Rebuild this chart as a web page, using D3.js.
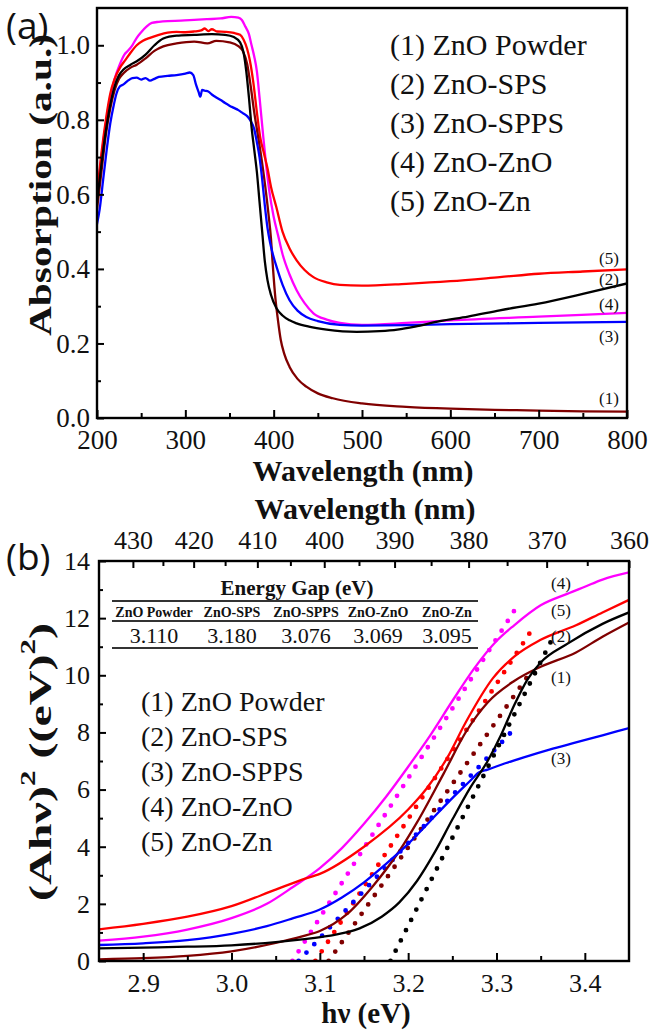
<!DOCTYPE html>
<html>
<head>
<meta charset="utf-8">
<script src="https://cdn.jsdelivr.net/npm/d3@7"></script>
<style>
  html, body { margin: 0; padding: 0; background: #fff; }
  svg { display: block; }
</style>
</head>
<body>
<svg id="chart" width="650" height="1030"></svg>
<script>
// ============================================================
// 데이터
// ============================================================

const sampleNames = ['ZnO Powder', 'ZnO-SPS', 'ZnO-SPPS', 'ZnO-ZnO', 'ZnO-Zn'];
const sampleColors = ['#800000', '#000000', '#0000ff', '#ff00ff', '#ff0000'];
const legendLabels = ['(1) ZnO Powder', '(2) ZnO-SPS', '(3) ZnO-SPPS', '(4) ZnO-ZnO', '(5) ZnO-Zn'];

// (a) 흡수 스펙트럼: [wavelength nm, absorption a.u.]
const absPowder = [[200,0.56],[205,0.66],[210,0.76],[215,0.83],[220,0.88],[225,0.91],[230,0.925],[238,0.94],[245,0.948],[255,0.965],[265,0.985],[275,0.997],[290,1.005],[310,1.01],[325,1.005],[335,1.012],[350,1.008],[360,0.998],[365,0.985],[370,0.95],[374,0.89],[378,0.82],[382,0.76],[386,0.7],[390,0.63],[394,0.55],[397,0.48],[399,0.41],[402,0.32],[405,0.26],[408,0.21],[412,0.172],[418,0.137],[427,0.105],[437,0.084],[450,0.066],[467,0.053],[500,0.039],[550,0.03],[600,0.025],[650,0.022],[700,0.02],[750,0.018],[800,0.017]];
const absSPS = [[200,0.58],[205,0.68],[210,0.77],[215,0.84],[220,0.89],[225,0.92],[230,0.935],[238,0.948],[245,0.957],[255,0.975],[265,1.0],[275,1.018],[290,1.026],[310,1.028],[330,1.03],[345,1.028],[355,1.022],[362,1.008],[366,0.98],[369,0.93],[372,0.86],[375,0.78],[378,0.72],[381,0.66],[384,0.58],[387,0.5],[390,0.42],[393,0.37],[397,0.33],[403,0.295],[410,0.275],[418,0.262],[426,0.254],[440,0.245],[460,0.237],[494,0.231],[520,0.233],[540,0.237],[560,0.245],[588,0.26],[620,0.272],[656,0.289],[700,0.307],[750,0.333],[800,0.361]];
const absSPPS = [[200,0.52],[203,0.56],[207,0.64],[211,0.72],[215,0.79],[219,0.84],[222,0.87],[226,0.89],[230,0.895],[235,0.905],[240,0.912],[245,0.913],[250,0.908],[255,0.912],[260,0.905],[265,0.91],[270,0.915],[280,0.918],[290,0.92],[300,0.924],[305,0.927],[309,0.92],[312,0.895],[315,0.875],[317,0.862],[319,0.88],[322,0.878],[326,0.876],[330,0.868],[335,0.86],[340,0.853],[345,0.845],[350,0.838],[355,0.832],[360,0.826],[365,0.818],[370,0.81],[374,0.797],[378,0.775],[381,0.74],[384,0.7],[387,0.64],[390,0.57],[393,0.51],[396,0.47],[399,0.44],[404,0.4],[410,0.358],[418,0.316],[427,0.288],[437,0.271],[450,0.26],[475,0.25],[500,0.248],[550,0.249],[600,0.252],[700,0.255],[800,0.258]];
const absZnO = [[200,0.59],[205,0.7],[210,0.79],[215,0.86],[220,0.91],[226,0.95],[231,0.975],[235,0.985],[240,1.0],[245,1.02],[250,1.035],[256,1.05],[262,1.06],[270,1.063],[280,1.065],[295,1.066],[310,1.068],[325,1.07],[340,1.072],[352,1.076],[360,1.074],[364,1.068],[368,1.05],[372,1.03],[375,1.0],[378,0.97],[381,0.93],[384,0.86],[388,0.76],[391,0.69],[395,0.61],[400,0.54],[405,0.49],[410,0.44],[418,0.385],[426,0.343],[435,0.308],[445,0.281],[460,0.264],[475,0.255],[500,0.25],[550,0.255],[600,0.262],[700,0.272],[800,0.282]];
const absZn = [[200,0.6],[205,0.71],[210,0.8],[215,0.87],[220,0.91],[226,0.94],[232,0.96],[238,0.98],[245,1.0],[252,1.012],[260,1.02],[270,1.028],[280,1.034],[290,1.036],[300,1.035],[310,1.037],[318,1.04],[322,1.045],[326,1.038],[330,1.043],[336,1.037],[345,1.036],[355,1.033],[362,1.028],[366,1.015],[370,0.99],[373,0.96],[377,0.9],[381,0.82],[385,0.75],[389,0.71],[393,0.67],[397,0.62],[403,0.566],[410,0.5],[418,0.455],[426,0.423],[435,0.397],[445,0.378],[460,0.364],[475,0.357],[500,0.355],[550,0.36],[600,0.367],[656,0.378],[700,0.387],[750,0.393],[800,0.399]];

// (b) Tauc plot: [hν eV, (Ahν)^2]
const taucPowder = [[2.85,0.06],[2.9,0.1],[2.95,0.18],[3.0,0.34],[3.05,0.63],[3.08,0.86],[3.1,1.05],[3.13,1.62],[3.16,2.62],[3.19,3.85],[3.21,4.85],[3.24,6.55],[3.266,8.05],[3.29,9.05],[3.32,9.8],[3.35,10.3],[3.39,10.8],[3.42,11.35],[3.45,11.85]];
const taucSPS = [[2.85,0.44],[2.9,0.47],[2.95,0.5],[3.0,0.55],[3.05,0.66],[3.08,0.76],[3.11,0.88],[3.145,1.14],[3.17,1.55],[3.19,2.05],[3.21,2.8],[3.23,3.8],[3.25,4.95],[3.27,6.05],[3.29,7.0],[3.305,7.9],[3.32,8.95],[3.335,9.85],[3.35,10.45],[3.38,11.1],[3.42,11.8],[3.45,12.2]];
const taucSPPS = [[2.85,0.56],[2.9,0.62],[2.95,0.73],[3.0,0.95],[3.04,1.22],[3.07,1.5],[3.1,1.8],[3.125,2.22],[3.15,2.75],[3.175,3.4],[3.2,4.1],[3.225,4.9],[3.25,5.7],[3.27,6.3],[3.28,6.6],[3.29,6.7],[3.31,6.92],[3.33,7.12],[3.36,7.4],[3.39,7.65],[3.42,7.9],[3.45,8.15]];
const taucZnO = [[2.85,0.71],[2.9,0.85],[2.95,1.1],[3.0,1.5],[3.04,2.0],[3.07,2.6],[3.1,3.25],[3.125,3.95],[3.15,4.8],[3.175,5.75],[3.2,6.8],[3.225,7.9],[3.25,9.1],[3.275,10.25],[3.3,11.2],[3.32,11.75],[3.35,12.45],[3.38,12.85],[3.4,13.1],[3.42,13.35],[3.45,13.6]];
const taucZn = [[2.85,1.11],[2.9,1.3],[2.95,1.55],[3.0,1.92],[3.05,2.5],[3.08,2.85],[3.1,3.05],[3.15,4.0],[3.2,5.3],[3.22,6.0],[3.244,7.1],[3.266,8.4],[3.296,9.9],[3.32,10.65],[3.35,11.24],[3.39,11.75],[3.42,12.2],[3.45,12.64]];

// 선형 외삽선 (점선): [[Eg, 0], [끝점 eV, 끝점 값]]
const fitPowder = [[3.110,0],[3.335,9.95]];
const fitSPS    = [[3.180,0],[3.364,11.33]];
const fitSPPS   = [[3.076,0],[3.319,8.09]];
const fitZnO    = [[3.069,0],[3.325,12.5]];
const fitZn     = [[3.095,0],[3.344,11.78]];

// 에너지 갭 표
const gapValues = ['3.110', '3.180', '3.076', '3.069', '3.095'];

// 눈금
const absTicksX = [200, 300, 400, 500, 600, 700, 800];
const absTicksY = [0, 0.2, 0.4, 0.6, 0.8, 1.0];
const taucTicksX = [2.9, 3.0, 3.1, 3.2, 3.3, 3.4];
const taucTicksY = [0, 2, 4, 6, 8, 10, 12, 14];
const wavelengthTicksTop = [430, 420, 410, 400, 390, 380, 370, 360];
const HC = 1242; // eV·nm (그림의 상단 축 위치에 맞춤)

// ============================================================
// 그리기
// ============================================================
const svg = d3.select('#chart');
const SERIF = '"Liberation Serif", "Times New Roman", Times, serif';
const SANS = '"Open Sans", "Noto Sans", sans-serif';

const absSeries = [absPowder, absSPS, absSPPS, absZnO, absZn];
const taucSeries = [taucPowder, taucSPS, taucSPPS, taucZnO, taucZn];
const fitSeries = [fitPowder, fitSPS, fitSPPS, fitZnO, fitZn];
const drawOrder = [3, 4, 0, 2, 1];

function styleAxis(g, fontSize) {
  g.attr('font-family', null).attr('font-size', null);
  g.select('.domain').remove();
  g.selectAll('.tick line').attr('stroke', '#000').attr('stroke-width', 2);
  g.selectAll('.tick text')
    .attr('fill', '#111')
    .style('font-family', SERIF)
    .style('font-size', fontSize + 'px');
}

function drawFrame(x, y) {
  svg.append('rect')
    .attr('x', x.range()[0]).attr('y', y.range()[1])
    .attr('width', x.range()[1] - x.range()[0])
    .attr('height', y.range()[0] - y.range()[1])
    .attr('fill', 'none').attr('stroke', '#000').attr('stroke-width', 2.4);
}

function addClip(id, x, y) {
  svg.append('defs').append('clipPath').attr('id', id)
    .append('rect')
    .attr('x', x.range()[0]).attr('y', y.range()[1])
    .attr('width', x.range()[1] - x.range()[0])
    .attr('height', y.range()[0] - y.range()[1]);
}

function serifText(x, y, str, size, opts = {}) {
  return svg.append('text')
    .attr('x', x).attr('y', y)
    .attr('text-anchor', opts.anchor || 'start')
    .attr('fill', '#111')
    .style('font-family', opts.family || SERIF)
    .style('font-size', size + 'px')
    .style('font-weight', opts.bold ? 'bold' : 'normal')
    .text(str);
}

// ---------------- (a) 흡수 스펙트럼 ----------------
const xA = d3.scaleLinear().domain([200, 800]).range([97, 627]);
const yA = d3.scaleLinear().domain([0, 1.1]).range([418, 8]);
addClip('clipA', xA, yA);

const lineA = d3.line().x(d => xA(d[0])).y(d => yA(d[1])).curve(d3.curveMonotoneX);
const gA = svg.append('g').attr('clip-path', 'url(#clipA)');
drawOrder.forEach(i => {
  gA.append('path')
    .datum(absSeries[i])
    .attr('d', lineA)
    .attr('fill', 'none')
    .attr('stroke', sampleColors[i])
    .attr('stroke-width', 2.3)
    .attr('stroke-linejoin', 'round');
});

// 눈금 (안쪽 방향)
svg.append('g').attr('transform', 'translate(0,418)')
  .call(d3.axisBottom(xA).tickValues(absTicksX).tickFormat(d3.format('d'))
    .tickSizeInner(-8).tickSizeOuter(0).tickPadding(12))
  .call(g => styleAxis(g, 27));
svg.append('g').attr('transform', 'translate(0,418)')
  .call(d3.axisBottom(xA).tickValues(d3.range(250, 800, 100)).tickFormat('')
    .tickSizeInner(-5).tickSizeOuter(0))
  .call(g => styleAxis(g, 27));
svg.append('g').attr('transform', 'translate(97,0)')
  .call(d3.axisLeft(yA).tickValues(absTicksY).tickFormat(d3.format('.1f'))
    .tickSizeInner(-7).tickSizeOuter(0).tickPadding(7))
  .call(g => styleAxis(g, 27));
svg.append('g').attr('transform', 'translate(97,0)')
  .call(d3.axisLeft(yA).tickValues([0.1, 0.3, 0.5, 0.7, 0.9]).tickFormat('')
    .tickSizeInner(-4).tickSizeOuter(0))
  .call(g => styleAxis(g, 27));
drawFrame(xA, yA);

// 축 제목
serifText(363, 481, 'Wavelength (nm)', 30, { anchor: 'middle', bold: true });
svg.append('text')
  .attr('transform', 'translate(51,185) rotate(-90)')
  .attr('text-anchor', 'middle')
  .attr('fill', '#111')
  .attr('textLength', 302)
  .attr('lengthAdjust', 'spacingAndGlyphs')
  .style('font-family', SERIF).style('font-size', '31px').style('font-weight', 'bold')
  .text('Absorption (a.u.)');

serifText(6, 39, '(a)', 37, { family: SANS });

// 범례
legendLabels.forEach((s, i) => serifText(390, 55 + i * 39, s, 30));

// 곡선 번호
const endLabelsA = [['(5)', 0.428], ['(2)', 0.372], ['(4)', 0.306], ['(3)', 0.22], ['(1)', 0.054]];
endLabelsA.forEach(d => serifText(xA(779.5), yA(d[1]) + 6, d[0], 17, { anchor: 'middle' }));

// ---------------- (b) Tauc plot ----------------
const xB = d3.scaleLinear().domain([2.85, 3.45]).range([99, 629]);
const yB = d3.scaleLinear().domain([0, 14]).range([961, 561]);
addClip('clipB', xB, yB);

const lineB = d3.line().x(d => xB(d[0])).y(d => yB(d[1])).curve(d3.curveMonotoneX);
const gB = svg.append('g').attr('clip-path', 'url(#clipB)');

// 외삽 점선
drawOrder.forEach(i => {
  gB.append('path')
    .datum(fitSeries[i])
    .attr('d', d3.line().x(d => xB(d[0])).y(d => yB(d[1])))
    .attr('fill', 'none')
    .attr('stroke', sampleColors[i])
    .attr('stroke-width', 4.8)
    .attr('stroke-linecap', 'round')
    .attr('stroke-dasharray', '0 11.5');
});
drawOrder.forEach(i => {
  gB.append('path')
    .datum(taucSeries[i])
    .attr('d', lineB)
    .attr('fill', 'none')
    .attr('stroke', sampleColors[i])
    .attr('stroke-width', 2.3)
    .attr('stroke-linejoin', 'round');
});

svg.append('g').attr('transform', 'translate(0,961)')
  .call(d3.axisBottom(xB).tickValues(taucTicksX).tickFormat(d3.format('.1f'))
    .tickSizeInner(-8).tickSizeOuter(0).tickPadding(13))
  .call(g => styleAxis(g, 26));
svg.append('g').attr('transform', 'translate(0,961)')
  .call(d3.axisBottom(xB).tickValues([2.95, 3.05, 3.15, 3.25, 3.35]).tickFormat('')
    .tickSizeInner(-5).tickSizeOuter(0))
  .call(g => styleAxis(g, 26));
svg.append('g').attr('transform', 'translate(99,0)')
  .call(d3.axisLeft(yB).tickValues(taucTicksY).tickFormat(d3.format('d'))
    .tickSizeInner(-7).tickSizeOuter(0).tickPadding(9))
  .call(g => styleAxis(g, 26));
svg.append('g').attr('transform', 'translate(99,0)')
  .call(d3.axisLeft(yB).tickValues([1, 3, 5, 7, 9, 11, 13]).tickFormat('')
    .tickSizeInner(-4).tickSizeOuter(0))
  .call(g => styleAxis(g, 26));

// 상단 파장 축 (E = hc / λ)
svg.append('g').attr('transform', 'translate(0,561)')
  .call(d3.axisTop(xB).tickValues(wavelengthTicksTop.map(l => HC / l))
    .tickFormat(e => Math.round(HC / e))
    .tickSizeInner(-7).tickSizeOuter(0).tickPadding(12))
  .call(g => styleAxis(g, 26));
svg.append('g').attr('transform', 'translate(0,561)')
  .call(d3.axisTop(xB).tickValues(d3.range(365, 430, 10).map(l => HC / l)).tickFormat('')
    .tickSizeInner(-5).tickSizeOuter(0))
  .call(g => styleAxis(g, 26));
drawFrame(xB, yB);

serifText(365, 519, 'Wavelength (nm)', 30, { anchor: 'middle', bold: true });
serifText(366, 1023, 'hν (eV)', 29, { anchor: 'middle', bold: true });

// y축 제목 (위첨자 포함) — 원본처럼 세로로 길게 늘임
const yTitleB = svg.append('text')
  .attr('transform', 'translate(51,762) rotate(-90) scale(1.55,1)')
  .attr('text-anchor', 'middle')
  .attr('fill', '#111')
  .style('font-family', SERIF).style('font-size', '31px').style('font-weight', 'bold');
yTitleB.append('tspan').text('(Ahν)');
yTitleB.append('tspan').attr('dy', -16).style('font-size', '20px').text('2');
yTitleB.append('tspan').attr('dy', 16).text(' ((eV)');
yTitleB.append('tspan').attr('dy', -16).style('font-size', '20px').text('2');
yTitleB.append('tspan').attr('dy', 16).text(')');

serifText(6, 570, '(b)', 37, { family: SANS });

// 에너지 갭 표
const tableLeft = 112, tableRight = 478;
const colX = [154, 232, 306, 378, 447];
[601, 621, 648].forEach(yy => {
  svg.append('line')
    .attr('x1', tableLeft).attr('x2', tableRight)
    .attr('y1', yy).attr('y2', yy)
    .attr('stroke', '#333').attr('stroke-width', 2);
});
serifText(297, 595, 'Energy Gap (eV)', 21, { anchor: 'middle', bold: true });
sampleNames.forEach((s, i) => serifText(colX[i], 617, s, 14, { anchor: 'middle', bold: true }));
gapValues.forEach((s, i) => serifText(colX[i], 643, s, 22, { anchor: 'middle' }));

// 범례
legendLabels.forEach((s, i) => serifText(141, 711 + i * 35, s, 28));

// 곡선 번호
const endLabelsB = [['(4)', 13.23], ['(5)', 12.29], ['(2)', 11.38], ['(1)', 9.94], ['(3)', 7.1]];
endLabelsB.forEach(d => serifText(xB(3.373), yB(d[1]) + 6, d[0], 17, { anchor: 'middle' }));
</script>
</body>
</html>
